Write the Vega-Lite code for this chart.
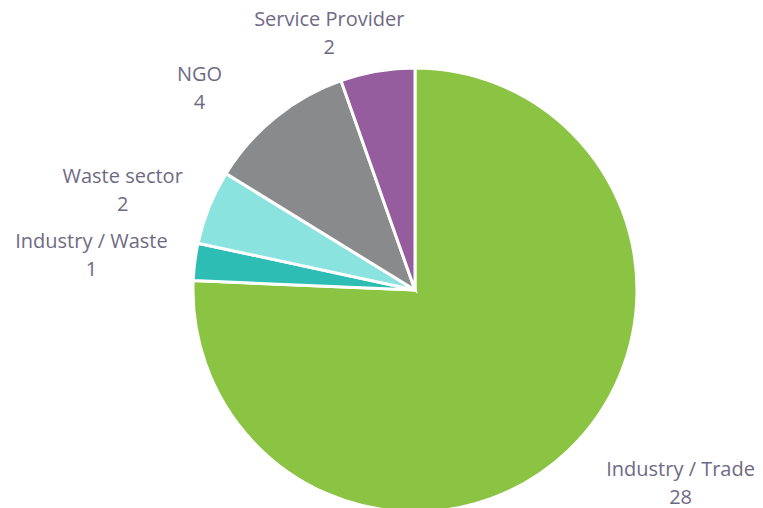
{
  "$schema": "https://vega.github.io/schema/vega-lite/v6.json",
  "autosize": {"type": "none"},
  "width": 444,
  "height": 444,
  "padding": {"left": 193, "top": 68, "right": 126, "bottom": 0},
  "background": "white",
  "config": {"view": {"stroke": null}},
  "data": {
    "values": [
      {"order": 1, "category": "Industry / Trade", "count": 28},
      {"order": 2, "category": "Industry / Waste", "count": 1},
      {"order": 3, "category": "Waste sector", "count": 2},
      {"order": 4, "category": "NGO", "count": 4},
      {"order": 5, "category": "Service Provider", "count": 2}
    ]
  },
  "encoding": {
    "theta": {"field": "count", "type": "quantitative", "stack": true},
    "order": {"field": "order", "type": "quantitative"}
  },
  "layer": [
    {
      "mark": {"type": "arc", "outerRadius": 222, "stroke": "white", "strokeWidth": 3},
      "encoding": {
        "color": {
          "field": "category",
          "type": "nominal",
          "scale": {
            "domain": ["Industry / Trade", "Industry / Waste", "Waste sector", "NGO", "Service Provider"],
            "range": ["#8BC443", "#2EBDB5", "#8AE3DE", "#898A8B", "#955D9E"]
          },
          "legend": null
        }
      }
    },
    {
      "mark": {
        "type": "text",
        "radius": 300,
        "font": "Open Sans",
        "fontSize": 20,
        "color": "#6F6A84",
        "align": "center",
        "baseline": "middle",
        "lineHeight": 28,
        "dx": {"expr": "datum.category == 'Industry / Trade' ? 58 : datum.category == 'Industry / Waste' ? -26 : datum.category == 'Waste sector' ? -14 : datum.category == 'NGO' ? -27 : -35"},
        "dy": {"expr": "datum.category == 'Industry / Trade' ? -37 : datum.category == 'Industry / Waste' ? -10 : datum.category == 'Waste sector' ? -1 : datum.category == 'NGO' ? 18 : 26"}
      },
      "encoding": {
        "text": {"field": "label", "type": "nominal"}
      },
      "transform": [
        {"calculate": "[datum.category, '' + datum.count]", "as": "label"}
      ]
    }
  ]
}
